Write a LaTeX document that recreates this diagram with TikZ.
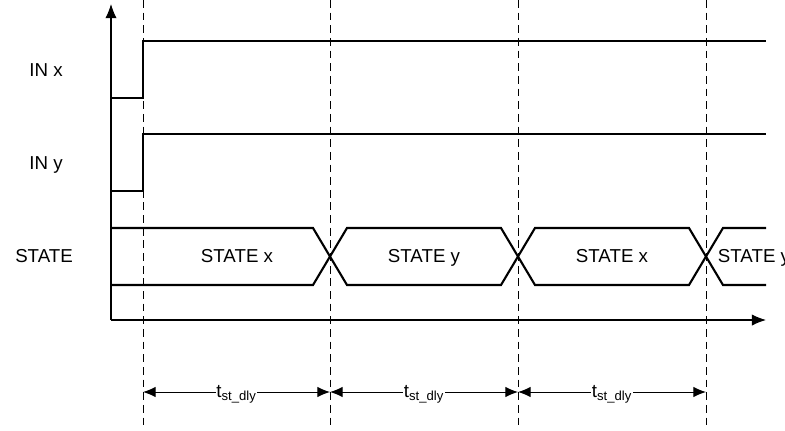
\documentclass[tikz,border=0pt]{standalone}
\usepackage{fontspec}
\setmainfont{Liberation Sans}
\usetikzlibrary{arrows.meta}

\begin{document}
\begin{tikzpicture}[>=Latex, x=0.025cm, y=-0.025cm,
    wave/.style={line width=1.5pt, line join=miter},
    axis/.style={line width=0.75pt, -{Latex[length=10pt,width=8pt]}},
    guide/.style={line width=0.7pt, dash pattern=on 5.5pt off 3.5pt},
    dim/.style={line width=0.7pt, {Latex[length=9pt,width=7.5pt]}-{Latex[length=9pt,width=7.5pt]}},
    lab/.style={font=\fontsize{13.3}{16}\selectfont, inner sep=1pt}]
  \useasboundingbox (0,0) rectangle (785,430);
  % time marks
  \foreach \x [count=\i from 0] in {143,330,518,706} {
    \coordinate (top\i) at (\x,0);
    \coordinate (bot\i) at (\x,430);
    \coordinate (m\i) at (\x,392);
    \draw[guide] (top\i) -- (bot\i);
  }
  % axes
  \coordinate (origin) at (111,320);
  \coordinate (ytip) at (111,4);
  \coordinate (xtip) at (766,320);
  \draw[axis] (origin) -- (ytip);
  \draw[axis] (origin) -- (xtip);
  % inputs
  \foreach \lo/\hi/\base/\lab [count=\i] in {98/41/76/IN x,191/134/169/IN y} {
    \node[lab, anchor=base] (in\i) at (46,\base) {\lab};
    \draw[wave] (111,\lo) -- (143,\lo) -- (143,\hi) -- (766,\hi);
  }
  % state bus
  \node[lab, anchor=base] (state) at (44,262) {STATE};
  \draw[wave] (111,228) -- (313,228) -- (347,285) -- (501,285) -- (535,228)
    -- (689,228) -- (723,285) -- (766,285);
  \draw[wave] (111,285) -- (313,285) -- (347,228) -- (501,228) -- (535,285)
    -- (689,285) -- (723,228) -- (766,228);
  \foreach \x/\lab [count=\i] in {237/STATE x,424/STATE y,612/STATE x,754/STATE y}
    \node[lab, anchor=base] (st\i) at (\x,262) {\lab};
  % delays
  \foreach \i/\j in {0/1,1/2,2/3}
    \draw[dim] (m\i) -- (m\j)
      node[lab, midway, fill=white, inner sep=0.5pt, yshift=-1.5pt] (dly\i) {t\textsubscript{st\_dly}};
\end{tikzpicture}
\end{document}
